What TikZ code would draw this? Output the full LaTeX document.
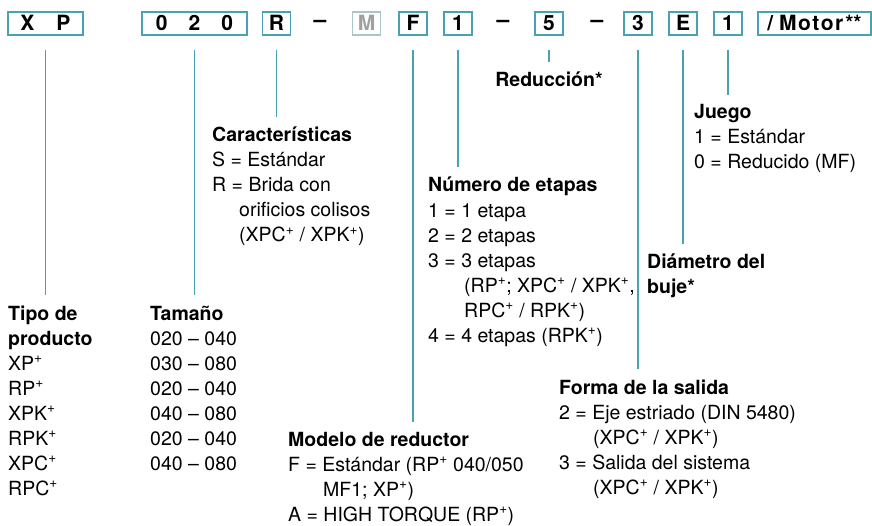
\documentclass[tikz,border=0pt]{standalone}
\usepackage{fontspec}
\setmainfont{TeX Gyre Heros}
\usetikzlibrary{calc}
\definecolor{codeteal}{RGB}{72,163,175}
\definecolor{mutedteal}{RGB}{170,198,202}
\definecolor{mutedgray}{RGB}{160,160,160}

\tikzset{
  codebox/.style={draw=codeteal, line width=1.5pt, minimum height=23pt, minimum width=28pt,
                  inner sep=0pt, text height=15pt, text depth=0pt,
                  font=\fontsize{21}{25}\selectfont\bfseries},
  codedash/.style={inner sep=0pt, font=\fontsize{23}{25}\selectfont\bfseries},
  legend/.style={anchor=base west, inner sep=0pt, align=left,
                 font=\fontsize{19.5}{25}\selectfont},
  leader/.style={draw=codeteal, line width=1.5pt, shorten <=14pt, shorten >=10pt},
}
\newcommand{\plus}[1]{#1\textsuperscript{+}}

\begin{document}
\begin{tikzpicture}[x=1pt, y=-1pt]
    \useasboundingbox (0,0) rectangle (872,526);

    % type code boxes
    \node[codebox, minimum width=75pt] (xp) at (45.5,23.5) {X\hspace{22pt}P};
    \node[codebox, minimum width=105pt] (size) at (194.5,23.5) {0\hspace{21pt}2\hspace{21pt}0};
    \node[codebox] (feat) at (276.5,23.5) {R};
    \node[codedash] (d1) at (320,23.5) {--};
    \node[codebox, draw=mutedteal, text=mutedgray] (mf) at (366.5,23.5) {M};
    \node[codebox] (model) at (413,23.5) {F};
    \node[codebox] (stage) at (458,23.5) {1};
    \node[codedash] (d2) at (503,23.5) {--};
    \node[codebox] (ratio) at (549,23.5) {5};
    \node[codedash] (d3) at (597,23.5) {--};
    \node[codebox] (out) at (638,23.5) {3};
    \node[codebox] (bush) at (683,23.5) {E};
    \node[codebox] (play) at (728,23.5) {1};
    \node[codebox, minimum width=113pt] (motor) at (814.5,23.5)
        {/ M\hspace{1.5pt}o\hspace{1.5pt}t\hspace{1.5pt}o\hspace{1.5pt}r\hspace{2pt}**};

    % legends (placed at the baseline of their last line)
    \node[legend] (tipo) at (8,495) {\textbf{Tipo de}\\\textbf{producto}\\\plus{XP}\\\plus{RP}\\\plus{XPK}\\\plus{RPK}\\\plus{XPC}\\\plus{RPC}};
    \node[legend] (tam) at (150,470) {\textbf{Tamaño}\\020 -- 040\\030 -- 080\\020 -- 040\\040 -- 080\\020 -- 040\\040 -- 080};
    \node[legend] (car) at (212,242) {\textbf{Características}\\S = Estándar\\R = Brida con\\\hspace*{27pt}orificios colisos\\\hspace*{27pt}(\plus{XPC} / \plus{XPK})};
    \node[legend] (mod) at (288,521) {\textbf{Modelo de reductor}\\F = Estándar (\plus{RP} 040/050\\\hspace*{35pt}MF1; \plus{XP})\\A = HIGH TORQUE (\plus{RP})};
    \node[legend] (num) at (428,342) {\textbf{Número de etapas}\\1 = 1 etapa\\2 = 2 etapas\\3 = 3 etapas\\\hspace*{36pt}(\plus{RP}; \plus{XPC} / \plus{XPK},\\\hspace*{36pt}\plus{RPC} / \plus{RPK})\\4 = 4 etapas (\plus{RPK})};
    \node[legend, anchor=base] (red) at (549,87) {\textbf{Reducción*}};
    \node[legend] (forma) at (559,494) {\textbf{Forma de la salida}\\2 = Eje estriado (DIN 5480)\\\hspace*{34pt}(\plus{XPC} / \plus{XPK})\\3 = Salida del sistema\\\hspace*{34pt}(\plus{XPC} / \plus{XPK})};
    \node[legend] (diam) at (647,294) {\textbf{Diámetro del}\\\textbf{buje*}};
    \node[legend] (juego) at (694,169) {\textbf{Juego}\\1 = Estándar\\0 = Reducido (MF)};

    % leader lines
    \draw[leader] (xp.south) -- (xp.south |- tipo.north);
    \draw[leader] (size.south) -- (size.south |- tam.north);
    \draw[leader] (feat.south) -- (feat.south |- car.north);
    \draw[leader] (model.south) -- (model.south |- mod.north);
    \draw[leader] (stage.south) -- (stage.south |- num.north);
    \draw[leader] (ratio.south) -- (red.north);
    \draw[leader] (out.south) -- (out.south |- forma.north);
    \draw[leader] (bush.south) -- (bush.south |- diam.north);
    \draw[leader] (play.south) -- (play.south |- juego.north);
\end{tikzpicture}
\end{document}
